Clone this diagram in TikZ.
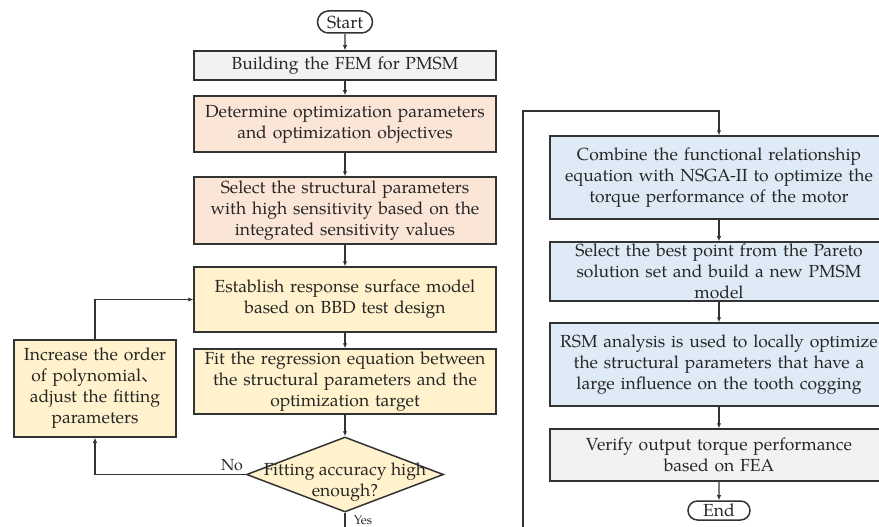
\documentclass[tikz,border=0pt]{standalone}
\usepackage{fontspec}
\setmainfont{TeX Gyre Pagella}
\newfontfamily\cjkfont{Noto Sans CJK SC}
\usetikzlibrary{shapes.geometric,shapes.misc,arrows.meta,calc}
\definecolor{greyfill}{HTML}{F2F2F2}
\definecolor{pinkfill}{HTML}{FBE5D6}
\definecolor{yellowfill}{HTML}{FFF2CC}
\definecolor{bluefill}{HTML}{DEEBF7}
\definecolor{edge}{HTML}{333333}
\begin{document}
\begin{tikzpicture}[x=1pt,y=-1pt,
  every node/.style={font=\fontsize{17.5}{21}\selectfont,text=black!85},
  box/.style={draw=edge,line width=1.5pt,rectangle,align=center,inner sep=2pt},
  lbox/.style={box,minimum width=302pt,text width=298pt},
  rbox/.style={box,minimum width=336pt,text width=334pt},
  pill/.style={draw=edge,line width=1.5pt,rounded rectangle,inner sep=1pt},
  arr/.style={draw=edge,line width=1.4pt,-{Latex[length=5pt,width=4.5pt]}},
  ln/.style={draw=edge,line width=1.4pt}]
\useasboundingbox (0,0) rectangle (879,527);
% left column
\node[pill,minimum width=57pt,minimum height=22pt] (start) at (345,22) {Start};
\node[lbox,fill=greyfill,minimum height=29pt] (build) at (345,65.5) {Building the FEM for PMSM};
\node[lbox,fill=pinkfill,minimum height=56pt] (det) at (345,124) {Determine optimization parameters\\and optimization objectives};
\node[lbox,fill=pinkfill,minimum height=67pt] (sel) at (345,210.5) {Select the structural parameters\\with high sensitivity based on the\\integrated sensitivity values};
\node[lbox,fill=yellowfill,minimum height=65pt] (est) at (345,299.5) {Establish response surface model\\based on BBD test design};
\node[lbox,fill=yellowfill,minimum height=65pt] (fit) at (345,381.5) {Fit the regression equation between\\the structural parameters and the\\optimization target};
\node[draw=edge,line width=1.5pt,fill=yellowfill,diamond,minimum width=197pt,minimum height=75pt,inner sep=0pt] (dec) at (345,474.5) {};
\node[align=center,inner sep=0pt] (dect) at (345,482) {Fitting accuracy high\\enough?};
\node[box,fill=yellowfill,minimum width=162pt,minimum height=97pt,text width=158pt] (inc) at (95,388.5) {Increase the order\\of polynomial{\cjkfont 、}\\adjust the fitting\\parameters};
% right column
\node[rbox,fill=bluefill,minimum height=83pt] (comb) at (719,177.5) {Combine the functional relationship\\equation with NSGA-II to optimize the\\torque performance of the motor};
\node[rbox,fill=bluefill,minimum height=59pt] (best) at (719,271.5) {Select the best point from the Pareto\\solution set and build a new PMSM\\model};
\node[rbox,fill=bluefill,minimum height=83pt] (rsm) at (719,364.5) {RSM analysis is used to locally optimize\\the structural parameters that have a\\large influence on the tooth cogging};
\node[rbox,fill=greyfill,minimum height=52pt] (ver) at (719,455) {Verify output torque performance\\based on FEA};
\node[pill,minimum width=64pt,minimum height=19pt] (end) at (719,510.5) {End};
% connectors
\draw[arr] (start) -- (build);
\draw[arr] (build) -- (det);
\draw[arr] (det) -- (sel);
\draw[arr] (sel) -- (est);
\draw[arr] (est) -- (fit);
\draw[arr] (fit) -- (dec);
\draw[arr] (dec.west) -| (inc.south);
\draw[arr] (inc.north) |- (est.west);
\coordinate (low) at (523,560);
\coordinate (topc) at (719,111);
\draw[arr] (dec.south) |- (low) -- (low |- topc) -- (topc) -- (comb.north);
\draw[arr] (comb) -- (best);
\draw[arr] (best) -- (rsm);
\draw[arr] (rsm) -- (ver);
\draw[arr] (ver) -- (end);
\node[font=\fontsize{16}{18}\selectfont,inner sep=0pt] at (232,465) {No};
\node[font=\fontsize{12.5}{14}\selectfont,inner sep=0pt] at (363,520) {Yes};
\end{tikzpicture}
\end{document}
